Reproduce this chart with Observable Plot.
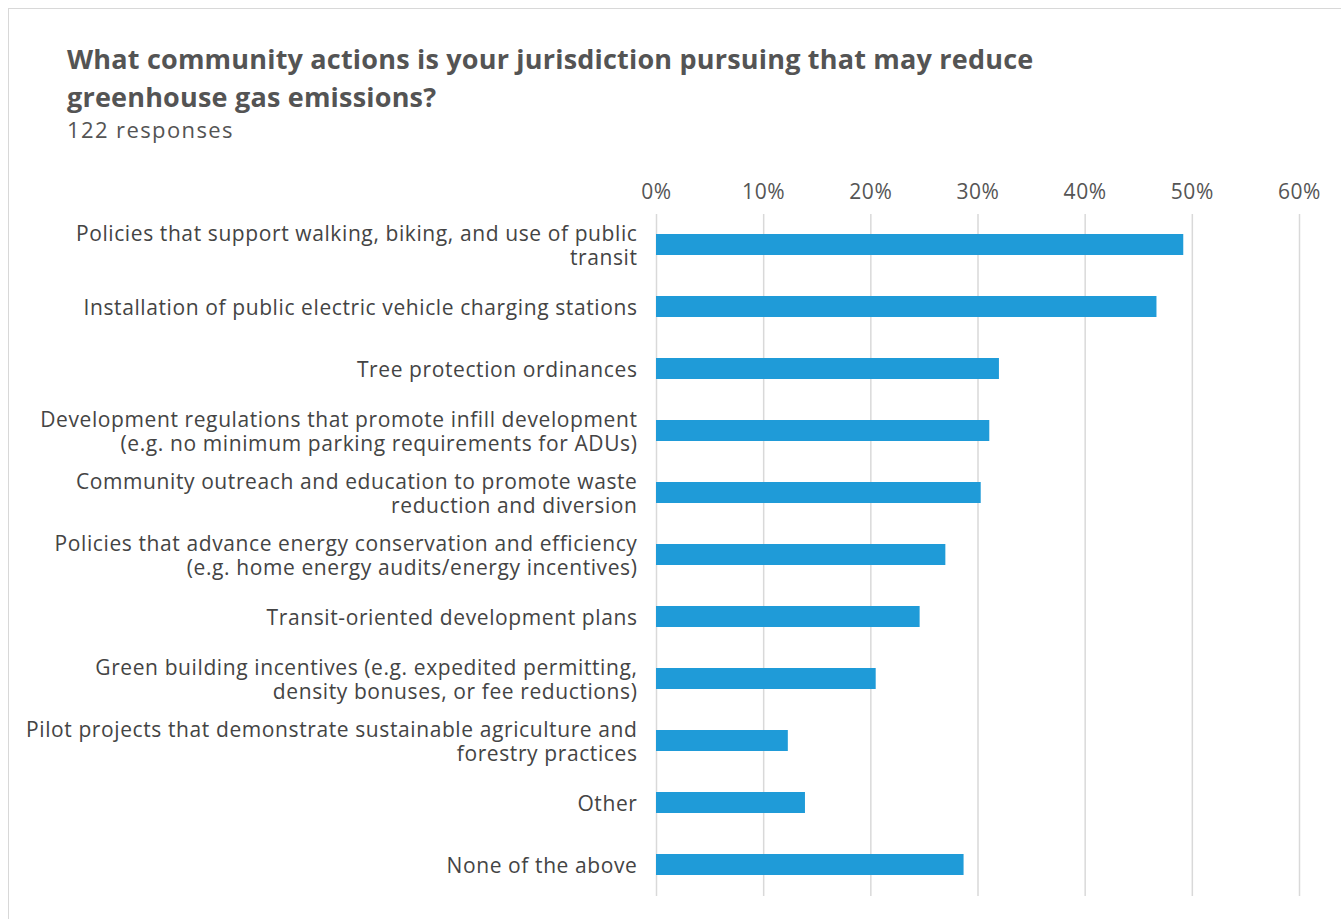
<!DOCTYPE html>
<html>
<head>
<meta charset="utf-8">
<script src="https://cdn.jsdelivr.net/npm/d3@7"></script>
<script src="https://cdn.jsdelivr.net/npm/@observablehq/plot@0.6"></script>
<style>
  html, body { margin: 0; padding: 0; background: #fff; width: 1341px; height: 919px; overflow: hidden; }
  #frame { position: absolute; left: 8px; top: 8px; width: 1400px; height: 1000px; border: 1.5px solid #d8d8d8; box-sizing: border-box; }
  #title { position: absolute; left: 67px; top: 40px; font-family: "Open Sans", sans-serif; font-weight: 700; font-size: 27px; letter-spacing: 0.2px; line-height: 38px; color: #545454; margin: 0; }
  #subtitle { position: absolute; left: 67px; top: 114px; font-family: "Open Sans", sans-serif; font-size: 22px; letter-spacing: 1.4px; color: #545454; margin: 0; }
  #chart { position: absolute; left: 0; top: 160px; }
  #chart svg text { letter-spacing: 0.6px; }
</style>
</head>
<body>
<div id="frame"></div>
<h1 id="title">What community actions is your jurisdiction pursuing that may reduce<br>greenhouse gas emissions?</h1>
<p id="subtitle">122 responses</p>
<div id="chart"></div>
<script>
const categories = [
  "Policies that support walking, biking, and use of public\ntransit",
  "Installation of public electric vehicle charging stations",
  "Tree protection ordinances",
  "Development regulations that promote infill development\n(e.g. no minimum parking requirements for ADUs)",
  "Community outreach and education to promote waste\nreduction and diversion",
  "Policies that advance energy conservation and efficiency\n(e.g. home energy audits/energy incentives)",
  "Transit-oriented development plans",
  "Green building incentives (e.g. expedited permitting,\ndensity bonuses, or fee reductions)",
  "Pilot projects that demonstrate sustainable agriculture and\nforestry practices",
  "Other",
  "None of the above"
];
const shares = [0.492, 0.467, 0.320, 0.311, 0.303, 0.270, 0.246, 0.205, 0.123, 0.139, 0.287];
const xTicks = [0, 0.1, 0.2, 0.3, 0.4, 0.5, 0.6];

const data = categories.map((c, i) => ({category: c, value: shares[i]}));

const chart = Plot.plot({
  width: 1341,
  height: 759,
  marginLeft: 656,
  marginRight: 42,
  marginTop: 54,
  marginBottom: 23,
  style: {fontFamily: "'Open Sans', sans-serif", fontSize: "21px", color: "#444", background: "transparent"},
  x: {domain: [0, 0.6], axis: null},
  y: {domain: categories, axis: null, paddingInner: 0.66, paddingOuter: 0.33},
  marks: [
    Plot.ruleX(xTicks, {x: d => d, stroke: "#d9d9d9", strokeWidth: 1.5, strokeOpacity: 1}),
    Plot.axisX(xTicks, {anchor: "top", tickSize: 0, tickPadding: 16, tickFormat: d3.format(".0%"), fontSize: 21, fill: "#555", label: null}),
    Plot.barX(data, {x: "value", y: "category", fill: "#1f9bd8", insetTop: 0, insetBottom: 0}),
    Plot.axisY({anchor: "left", tickSize: 0, tickPadding: 19, fontSize: 21, fill: "#444", lineHeight: 1.15, label: null})
  ]
});
document.getElementById("chart").appendChild(chart);
</script>
</body>
</html>
